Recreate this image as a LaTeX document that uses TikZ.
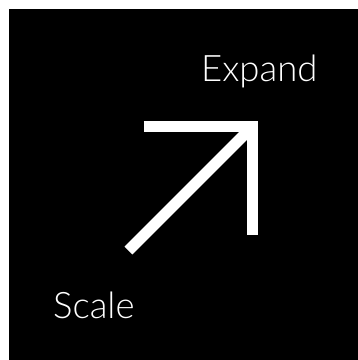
\documentclass[tikz,border=0pt]{standalone}
\usepackage{fontspec}
\setmainfont{Lato}[UprightFont=* Light]
\usepackage{xcolor}
\usepackage{tikz}
\usetikzlibrary{positioning}

\begin{document}
\begin{tikzpicture}[
  x=1pt, y=-1pt,
  label/.style={text=white, inner sep=0pt, anchor=base west, font=\fontsize{36.5}{42}\selectfont},
  bar/.style={draw=white, line width=11pt, line cap=butt}
]

% Page and black panel
\useasboundingbox (0,0) rectangle (358,360);
\fill[black] (9,9) rectangle (358,360);

% Labels
\node[label] (expand) at (201,81) {Expand};
\node[label] (scale) at (53,318) {Scale};

% Arrow
\coordinate (tail) at (128.5,250.5);
\coordinate (head) at (251,128);
\coordinate (hl) at (144,126.5);
\coordinate (corner) at (252.5,126.5);
\coordinate (vb) at (252.5,235);
\draw[bar] (tail) -- (head);
\draw[bar, line join=miter] (hl) -- (corner) -- (vb);

\end{tikzpicture}
\end{document}
